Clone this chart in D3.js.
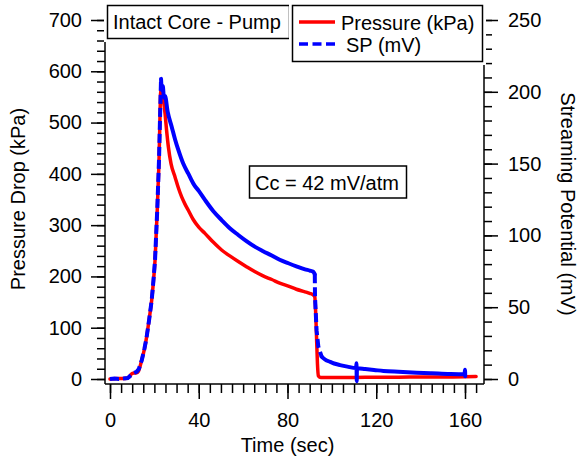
<!DOCTYPE html>
<html>
<head>
<meta charset="utf-8">
<script src="https://cdn.jsdelivr.net/npm/d3@7"></script>
<style>
  body { margin: 0; background: #fff; }
  svg { display: block; font-family: "Liberation Sans", Arial, sans-serif; }
  text { font-size: 20px; fill: #000; }
</style>
</head>
<body>
<script>
// values
const pressureTime = [0, 3, 6, 8, 9, 10, 12, 12.8, 14.3, 15.5,
  16.5, 17.7, 18.8, 19.6, 20.3, 20.8, 21.3, 21.7, 22.1, 22.5,
  22.8, 23.2, 23.6, 24.2, 24.8, 25.5, 26.3, 27.5, 29.3, 30.8,
  32.3, 33.8, 35.3, 37.5, 40, 42.8, 46.5, 50.3, 54, 57.8,
  61.5, 65.4, 69, 72.9, 76.5, 80.4, 84, 87.9, 90, 91.6,
  92.3, 92.7, 93.1, 93.5, 93.9, 95, 100, 110, 120, 130,
  140, 150, 160, 165];
const pressure = [0, 1, 1, 2, 6, 11, 12, 15, 37, 58,
  82, 118, 154, 192, 232, 280, 330, 378, 427, 505,
  557, 568, 560, 540, 518, 485, 453, 420, 394, 373,
  355, 341, 329, 311, 296, 284, 267, 251.5, 240, 229,
  219, 209, 201, 194, 187, 181, 175, 170, 167, 164,
  160, 130, 80, 30, 6, 3, 3, 3, 3.5, 3.5,
  4, 4, 4.5, 5];

const spTime = [0, 2, 4, 6, 8, 9, 10.5, 12, 13, 14.3,
  15.5, 16.5, 17.7, 18.8, 19.6, 20.3, 21.3, 22.1, 22.6, 23,
  23.4, 23.8, 24.3, 24.8, 26, 27.8, 29.3, 30.8, 33, 35.3,
  38, 40, 42.8, 46.5, 50.3, 54, 57.8, 61.5, 65.4, 69,
  72.9, 76.5, 80.4, 84, 87.9, 90, 91.6, 92.3, 92.4, 93.1,
  93.9, 95.4, 97, 99.1, 101, 103.7, 107, 110.9, 111.1, 111.2,
  111.3, 115, 119, 123.2, 130, 138.2, 145, 153.2, 159.8, 160,
  160.1];
const sp = [0, 0.3, 0, 0.3, 0.7, 2, 4, 5, 7, 13,
  21, 29, 42, 55, 69, 83, 118, 153, 185, 209,
  201, 204, 196, 197, 186, 175.7, 167, 159.5, 150, 143,
  135, 131, 124.7, 117, 110.7, 105, 100.3, 96, 92, 89,
  86, 83, 80.6, 78.5, 76.4, 75.5, 74.7, 73, 57, 34,
  22.5, 15.5, 13.5, 12, 10.8, 9.7, 8.6, 7.6, 11, -1.5,
  7.4, 6.9, 6.3, 5.6, 5, 4.4, 4, 3.5, 3.3, 6.5,
  2];

const xMajor = [0, 40, 80, 120, 160];
const leftMajor = [0, 100, 200, 300, 400, 500, 600, 700];
const rightMajor = [0, 50, 100, 150, 200, 250];

const xTitle = "Time (sec)";
const leftTitle = "Pressure Drop (kPa)";
const rightTitle = "Streaming Potential (mV)";
const boxTitle = "Intact Core - Pump";
const ccText = "Cc = 42 mV/atm";
const legendNames = ["Pressure (kPa)", "SP (mV)"];

// geometry
const width = 580, height = 459;
const axisLeftX = 105, axisRightX = 484, axisBottomY = 384;

const x = d3.scaleLinear().domain([0, 160]).range([110, 465]);
const yL = d3.scaleLinear().domain([0, 700]).range([379, 20]);
const yR = d3.scaleLinear().domain([0, 250]).range([379, 20]);

const svg = d3.select("body").append("svg")
  .attr("width", width)
  .attr("height", height);

svg.append("rect").attr("width", width).attr("height", height).attr("fill", "#fff");

// axes: minor ticks first, then major ticks with labels
function styleAxis(g) {
  g.select(".domain").remove();
  g.selectAll("line").attr("stroke", "#000").attr("stroke-width", 1.5);
  g.selectAll("text").attr("font-size", 20).attr("font-family", "Liberation Sans, Arial, sans-serif");
}

svg.append("g").attr("transform", `translate(0,${axisBottomY})`)
  .call(d3.axisBottom(x).tickValues(d3.range(0, 166, 5)).tickSize(9).tickFormat(""))
  .call(styleAxis);
svg.append("g").attr("transform", `translate(0,${axisBottomY})`)
  .call(d3.axisBottom(x).tickValues(xMajor).tickSize(15).tickPadding(14).tickFormat(d3.format("d")))
  .call(styleAxis);

svg.append("g").attr("transform", `translate(${axisLeftX},0)`)
  .call(d3.axisLeft(yL).tickValues(d3.range(0, 701, 20)).tickSize(8).tickFormat(""))
  .call(styleAxis);
svg.append("g").attr("transform", `translate(${axisLeftX},0)`)
  .call(d3.axisLeft(yL).tickValues(leftMajor).tickSize(14).tickPadding(9).tickFormat(d3.format("d")))
  .call(styleAxis);

svg.append("g").attr("transform", `translate(${axisRightX},0)`)
  .call(d3.axisRight(yR).tickValues(d3.range(0, 251, 10)).tickSize(8).tickFormat(""))
  .call(styleAxis);
svg.append("g").attr("transform", `translate(${axisRightX},0)`)
  .call(d3.axisRight(yR).tickValues(rightMajor).tickSize(14).tickPadding(10).tickFormat(d3.format("d")))
  .call(styleAxis);

// axis lines
const axisLines = svg.append("g").attr("stroke", "#000").attr("stroke-width", 1.5);
axisLines.append("line").attr("x1", axisLeftX).attr("x2", axisLeftX).attr("y1", yL(700)).attr("y2", axisBottomY);
axisLines.append("line").attr("x1", axisRightX).attr("x2", axisRightX).attr("y1", yR(250)).attr("y2", axisBottomY);
axisLines.append("line").attr("x1", axisLeftX).attr("x2", axisRightX).attr("y1", axisBottomY).attr("y2", axisBottomY);

// axis titles
svg.append("text").attr("x", x(80) - 0).attr("y", 452).attr("text-anchor", "middle").text(xTitle);
svg.append("text").attr("transform", "translate(25,199) rotate(-90)").attr("text-anchor", "middle").text(leftTitle);
svg.append("text").attr("transform", "translate(561,204) rotate(90)").attr("text-anchor", "middle").text(rightTitle);

// data
const pData = pressureTime.map((t, i) => ({ t: t, v: pressure[i] }));
const sData = spTime.map((t, i) => ({ t: t, v: sp[i] }));

const pLine = d3.line().curve(d3.curveMonotoneX).x(d => x(d.t)).y(d => yL(d.v));
svg.append("path").datum(pData)
  .attr("d", pLine)
  .attr("fill", "none").attr("stroke", "#ff0000").attr("stroke-width", 3.5)
  .attr("stroke-linejoin", "round").attr("stroke-linecap", "round");

// the blue trace shows its dashes only where the points are far apart
const isDashed = d => d.t <= 23 || (d.t >= 92.3 && d.t <= 95.4);
const isSolid = d => d.t >= 23 && !(d.t > 92.3 && d.t < 95.4);

svg.append("path").datum(sData)
  .attr("d", d3.line().defined(isSolid).curve(d3.curveMonotoneX).x(d => x(d.t)).y(d => yR(d.v)))
  .attr("fill", "none").attr("stroke", "#0000ff").attr("stroke-width", 4)
  .attr("stroke-linejoin", "round").attr("stroke-linecap", "round");
svg.append("path").datum(sData)
  .attr("d", d3.line().defined(isDashed).x(d => x(d.t)).y(d => yR(d.v)))
  .attr("fill", "none").attr("stroke", "#0000ff").attr("stroke-width", 4)
  .attr("stroke-dasharray", "9,4");

// annotation boxes
function box(x0, y0, w, h) {
  svg.append("rect").attr("x", x0 - 3.5).attr("y", y0 - 3.5).attr("width", w + 7).attr("height", h + 7)
    .attr("fill", "#fff");
  svg.append("rect").attr("x", x0).attr("y", y0).attr("width", w).attr("height", h)
    .attr("fill", "#fff").attr("stroke", "#000").attr("stroke-width", 1.5);
}

box(107.5, 5.5, 182, 33);
svg.append("text").attr("x", 113).attr("y", 29).text(boxTitle);

box(292.5, 5.5, 190, 56);
svg.append("line").attr("x1", 299).attr("x2", 335).attr("y1", 22).attr("y2", 22)
  .attr("stroke", "#ff0000").attr("stroke-width", 3.5);
svg.append("text").attr("x", 341).attr("y", 30).text(legendNames[0]);
svg.append("line").attr("x1", 299).attr("x2", 336).attr("y1", 44).attr("y2", 44)
  .attr("stroke", "#0000ff").attr("stroke-width", 3.5).attr("stroke-dasharray", "9,4.5");
svg.append("text").attr("x", 346).attr("y", 52).text(legendNames[1]);

box(249.5, 166, 157, 32);
svg.append("text").attr("x", 255).attr("y", 189.5).text(ccText);
</script>
</body>
</html>
